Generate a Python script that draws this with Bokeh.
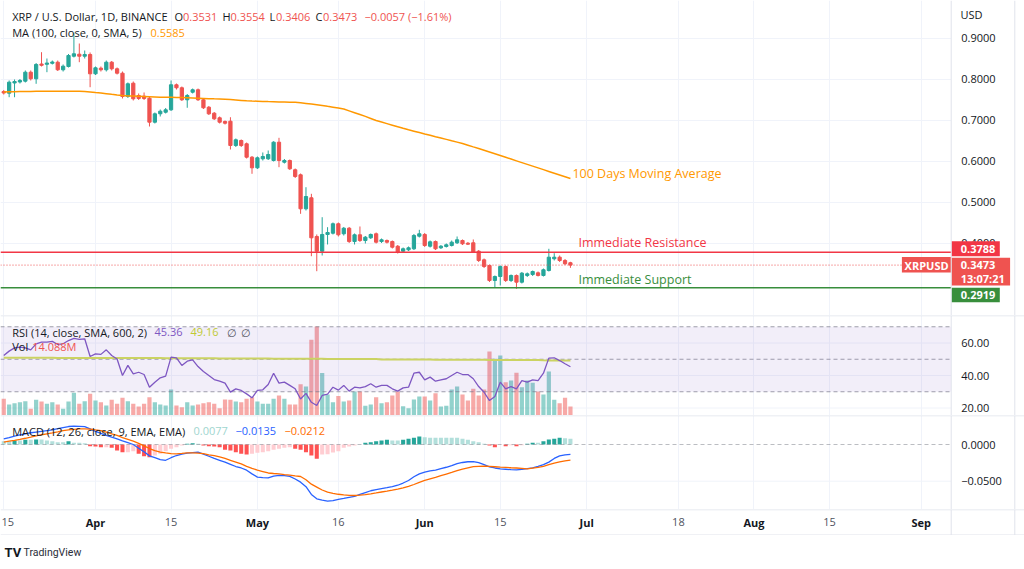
import numpy as np
import pandas as pd
from bokeh.plotting import figure
from bokeh.layouts import column
from bokeh.models import (Range1d, FixedTicker, Label, Span, BoxAnnotation, ColumnDataSource)
from bokeh.embed import file_html
from bokeh.resources import INLINE
from bokeh.core.properties import value

# ---------------- data ----------------
first_day = "2022-03-15"

opens = [0.7707, 0.7666, 0.7915, 0.7939, 0.7959, 0.8178, 0.8017, 0.8378, 0.8371, 0.8395,
         0.8422, 0.8237, 0.8317, 0.8568, 0.8617, 0.8568, 0.8610, 0.8139, 0.8276, 0.8237,
         0.8422, 0.8261, 0.8154, 0.7585, 0.7910, 0.7610, 0.7593, 0.7544, 0.6959, 0.7163,
         0.7202, 0.7261, 0.7871, 0.7798, 0.7505, 0.7690, 0.7749, 0.7505, 0.7324, 0.7178,
         0.7066, 0.6976, 0.6983, 0.6390, 0.6512, 0.6432, 0.6105, 0.5846, 0.6066, 0.6066,
         0.6024, 0.6471, 0.5983, 0.6024, 0.5798, 0.5676, 0.4846, 0.5115, 0.4171, 0.3812,
         0.4220, 0.4251, 0.4481, 0.4237, 0.4373, 0.4049, 0.4212, 0.4073, 0.4139, 0.4237,
         0.4049, 0.4073, 0.4049, 0.3934, 0.3812, 0.3846, 0.3871, 0.4178, 0.4220, 0.3934,
         0.4049, 0.3895, 0.3927, 0.3951, 0.4017, 0.4073, 0.4007, 0.4017, 0.3812, 0.3602,
         0.3463, 0.3098, 0.3195, 0.3439, 0.3098, 0.3220, 0.3056, 0.3220, 0.3244, 0.3285,
         0.3220, 0.3341, 0.3627, 0.3666, 0.3585, 0.3531]
highs = [0.7744, 0.7976, 0.8000, 0.8012, 0.8220, 0.8220, 0.8402, 0.8666, 0.8512, 0.8463,
         0.8463, 0.8366, 0.8622, 0.9146, 0.8878, 0.8707, 0.8659, 0.8317, 0.8317, 0.8463,
         0.8451, 0.8293, 0.8195, 0.7927, 0.7951, 0.7659, 0.7683, 0.7585, 0.7195, 0.7268,
         0.7305, 0.7976, 0.7902, 0.7829, 0.7646, 0.7780, 0.7780, 0.7537, 0.7354, 0.7207,
         0.7098, 0.7000, 0.7080, 0.6561, 0.6537, 0.6463, 0.6134, 0.6122, 0.6220, 0.6268,
         0.6495, 0.6578, 0.6061, 0.6049, 0.5829, 0.5707, 0.5373, 0.5212, 0.4220, 0.4641,
         0.4398, 0.4512, 0.4512, 0.4403, 0.4403, 0.4244, 0.4415, 0.4183, 0.4244, 0.4268,
         0.4122, 0.4098, 0.4073, 0.3963, 0.3902, 0.3927, 0.4232, 0.4334, 0.4256, 0.4073,
         0.4073, 0.3963, 0.4000, 0.4073, 0.4171, 0.4098, 0.4037, 0.4098, 0.3841, 0.3634,
         0.3488, 0.3220, 0.3463, 0.3463, 0.3244, 0.3244, 0.3305, 0.3293, 0.3341, 0.3317,
         0.3390, 0.3871, 0.3764, 0.3707, 0.3622, 0.3554]
lows = [0.7634, 0.7568, 0.7568, 0.7902, 0.7927, 0.7976, 0.7895, 0.8317, 0.8178, 0.8366,
        0.8207, 0.8195, 0.8293, 0.8537, 0.8422, 0.8512, 0.7812, 0.8110, 0.8195, 0.8195,
        0.8220, 0.8122, 0.7537, 0.7549, 0.7488, 0.7500, 0.7500, 0.6854, 0.6927, 0.7098,
        0.7171, 0.7232, 0.7756, 0.7476, 0.7310, 0.7659, 0.7476, 0.7280, 0.7134, 0.7012,
        0.6927, 0.6902, 0.6293, 0.6354, 0.6354, 0.6073, 0.5700, 0.5817, 0.6024, 0.6037,
        0.6000, 0.5861, 0.5951, 0.5793, 0.5598, 0.4724, 0.4805, 0.3690, 0.3324, 0.3707,
        0.3976, 0.4220, 0.4171, 0.4195, 0.4012, 0.3976, 0.4037, 0.4000, 0.4110, 0.4000,
        0.4012, 0.4000, 0.3878, 0.3756, 0.3781, 0.3817, 0.3841, 0.4146, 0.3915, 0.3902,
        0.3841, 0.3866, 0.3902, 0.3927, 0.3988, 0.3963, 0.3963, 0.3768, 0.3549, 0.3402,
        0.3061, 0.2934, 0.2976, 0.3061, 0.3061, 0.2895, 0.3024, 0.3183, 0.3207, 0.3195,
        0.3195, 0.3317, 0.3585, 0.3549, 0.3476, 0.3406]
closes = [0.7671, 0.7934, 0.7951, 0.7976, 0.8178, 0.8017, 0.8366, 0.8346, 0.8402, 0.8427,
          0.8237, 0.8324, 0.8585, 0.8627, 0.8568, 0.8610, 0.8139, 0.8285, 0.8237, 0.8422,
          0.8261, 0.8154, 0.7585, 0.7895, 0.7529, 0.7537, 0.7537, 0.6959, 0.7163, 0.7227,
          0.7261, 0.7871, 0.7798, 0.7505, 0.7610, 0.7749, 0.7505, 0.7310, 0.7163, 0.7041,
          0.6959, 0.6934, 0.6390, 0.6529, 0.6390, 0.6105, 0.5846, 0.6090, 0.6122, 0.6171,
          0.6471, 0.6024, 0.6024, 0.5822, 0.5634, 0.4846, 0.5146, 0.4139, 0.3812, 0.4220,
          0.4268, 0.4481, 0.4212, 0.4373, 0.4049, 0.4212, 0.4073, 0.4154, 0.4220, 0.4032,
          0.4090, 0.4032, 0.3910, 0.3788, 0.3871, 0.3895, 0.4195, 0.4237, 0.3951, 0.4041,
          0.3871, 0.3934, 0.3968, 0.4032, 0.4090, 0.3993, 0.3983, 0.3788, 0.3585, 0.3439,
          0.3098, 0.3195, 0.3439, 0.3098, 0.3220, 0.3056, 0.3276, 0.3261, 0.3317, 0.3220,
          0.3359, 0.3666, 0.3666, 0.3585, 0.3505, 0.3473]
volume_m = [26.1, 17.2, 19.2, 20.8, 22.4, 10.5, 24.6, 21.9, 18.3, 20.8,
            17.2, 10.5, 21.9, 35.5, 18.3, 22.4, 34.0, 23.5, 20.8, 15.7,
            24.6, 18.3, 27.7, 22.4, 18.3, 14.1, 18.3, 28.6, 20.8, 17.2,
            15.7, 40.7, 15.7, 13.0, 20.8, 15.7, 17.2, 19.2, 20.8, 18.3,
            11.4, 25.0, 24.6, 21.9, 20.8, 26.1, 28.6, 21.9, 18.3, 18.3,
            26.1, 31.3, 26.1, 17.2, 17.2, 49.0, 45.4, 118.5, 139.3, 66.5,
            32.9, 20.8, 30.5, 21.9, 23.5, 37.6, 37.6, 15.2, 17.2, 28.6,
            19.2, 20.8, 31.3, 37.6, 14.6, 11.4, 25.0, 29.7, 29.7, 23.5,
            34.9, 14.1, 15.2, 40.7, 45.4, 32.9, 23.5, 41.8, 31.3, 40.7,
            100.2, 88.7, 93.9, 52.1, 54.8, 66.8, 44.3, 54.8, 51.2, 37.6,
            32.9, 68.9, 24.6, 19.2, 27.7, 14.088]
ma100 = [0.7695, 0.7700, 0.7703, 0.7706, 0.7708, 0.7710, 0.7712, 0.7714, 0.7715, 0.7716,
         0.7716, 0.7716, 0.7715, 0.7714, 0.7712, 0.7705, 0.7695, 0.7682, 0.7670, 0.7655,
         0.7638, 0.7622, 0.7610, 0.7600, 0.7595, 0.7590, 0.7585, 0.7580, 0.7575, 0.7570,
         0.7568, 0.7566, 0.7562, 0.7558, 0.7553, 0.7548, 0.7543, 0.7538, 0.7533, 0.7529,
         0.7527, 0.7520, 0.7510, 0.7500, 0.7490, 0.7480, 0.7475, 0.7471, 0.7466, 0.7461,
         0.7457, 0.7453, 0.7450, 0.7447, 0.7444, 0.7430, 0.7415, 0.7400, 0.7385, 0.7366,
         0.7345, 0.7325, 0.7303, 0.7280, 0.7235, 0.7190, 0.7145, 0.7100, 0.7050, 0.7000,
         0.6962, 0.6924, 0.6886, 0.6848, 0.6810, 0.6773, 0.6740, 0.6707, 0.6673, 0.6640,
         0.6606, 0.6573, 0.6540, 0.6506, 0.6473, 0.6439, 0.6398, 0.6357, 0.6317, 0.6274,
         0.6231, 0.6188, 0.6145, 0.6102, 0.6059, 0.6016, 0.5973, 0.5930, 0.5887, 0.5844,
         0.5801, 0.5758, 0.5715, 0.5672, 0.5629, 0.5585]
rsi = [52.3, 55.0, 57.0, 57.5, 57.0, 55.8, 59.5, 60.5, 60.5, 61.0,
       59.1, 59.5, 61.5, 62.8, 62.2, 62.6, 51.7, 53.3, 53.0, 55.8,
       52.3, 50.2, 40.0, 46.2, 41.0, 42.0, 40.6, 32.8, 35.9, 38.6,
       39.6, 51.3, 50.9, 46.2, 48.8, 49.6, 45.5, 42.5, 40.0, 37.5,
       36.5, 35.3, 29.8, 31.8, 30.8, 28.7, 26.3, 30.8, 31.2, 34.5,
       41.4, 35.3, 35.9, 33.9, 31.8, 25.5, 29.0, 23.5, 21.5, 27.7,
       28.5, 32.8, 31.0, 33.9, 30.4, 32.8, 32.4, 33.2, 34.9, 32.8,
       33.9, 33.9, 31.8, 30.4, 32.4, 32.8, 41.4, 42.0, 37.3, 39.0,
       36.5, 37.3, 38.0, 40.0, 42.0, 40.6, 40.6, 38.0, 33.2, 29.7,
       24.6, 27.1, 35.9, 31.8, 33.2, 31.8, 36.9, 35.9, 37.3, 36.9,
       41.4, 50.7, 50.9, 49.2, 47.2, 45.36]
rsi_ma = [50.9, 50.9, 50.9, 50.9, 50.9, 50.9, 50.9, 50.9, 50.9, 50.9,
          50.8, 50.8, 50.8, 50.8, 50.8, 50.8, 50.8, 50.8, 50.8, 50.8,
          50.7, 50.7, 50.7, 50.7, 50.7, 50.7, 50.7, 50.7, 50.7, 50.7,
          50.6, 50.6, 50.6, 50.6, 50.6, 50.6, 50.6, 50.6, 50.6, 50.6,
          50.5, 50.5, 50.5, 50.5, 50.5, 50.5, 50.5, 50.5, 50.5, 50.5,
          50.3, 50.3, 50.3, 50.3, 50.3, 50.3, 50.3, 50.3, 50.3, 50.3,
          50.1, 50.1, 50.1, 50.1, 50.1, 50.1, 50.1, 50.1, 50.1, 50.1,
          49.9, 49.9, 49.9, 49.9, 49.9, 49.9, 49.9, 49.9, 49.9, 49.9,
          49.7, 49.7, 49.7, 49.7, 49.7, 49.7, 49.7, 49.7, 49.7, 49.7,
          49.5, 49.5, 49.5, 49.5, 49.5, 49.5, 49.5, 49.5, 49.5, 49.5,
          49.35, 49.3, 49.25, 49.2, 49.18, 49.16]
macd = [0.0077, 0.0095, 0.0115, 0.0130, 0.0145, 0.0160, 0.0170, 0.0180, 0.0190, 0.0200,
        0.0215, 0.0230, 0.0245, 0.0250, 0.0248, 0.0243, 0.0213, 0.0180, 0.0152, 0.0125,
        0.0100, 0.0077, 0.0050, 0.0025, 0.0000, -0.0050, -0.0100, -0.0155, -0.0180, -0.0205,
        -0.0215, -0.0180, -0.0150, -0.0130, -0.0118, -0.0110, -0.0105, -0.0130, -0.0160, -0.0190,
        -0.0215, -0.0240, -0.0270, -0.0300, -0.0320, -0.0350, -0.0400, -0.0445, -0.0450, -0.0454,
        -0.0430, -0.0422, -0.0425, -0.0435, -0.0470, -0.0513, -0.0575, -0.0680, -0.0740, -0.0758,
        -0.0772, -0.0765, -0.0748, -0.0735, -0.0720, -0.0708, -0.0680, -0.0655, -0.0630, -0.0615,
        -0.0600, -0.0588, -0.0575, -0.0555, -0.0525, -0.0490, -0.0440, -0.0400, -0.0375, -0.0358,
        -0.0348, -0.0328, -0.0310, -0.0288, -0.0262, -0.0245, -0.0235, -0.0232, -0.0248, -0.0275,
        -0.0305, -0.0320, -0.0332, -0.0337, -0.0342, -0.0345, -0.0338, -0.0330, -0.0318, -0.0298,
        -0.0275, -0.0240, -0.0190, -0.0155, -0.0142, -0.0135]
signal = [0.0032, 0.0045, 0.0057, 0.0070, 0.0085, 0.0101, 0.0118, 0.0133, 0.0146, 0.0158,
          0.0172, 0.0188, 0.0200, 0.0207, 0.0212, 0.0213, 0.0210, 0.0198, 0.0190, 0.0168,
          0.0145, 0.0123, 0.0095, 0.0070, 0.0045, 0.0015, -0.0018, -0.0055, -0.0082, -0.0104,
          -0.0115, -0.0125, -0.0127, -0.0122, -0.0114, -0.0114, -0.0117, -0.0125, -0.0140, -0.0152,
          -0.0170, -0.0190, -0.0215, -0.0240, -0.0265, -0.0298, -0.0325, -0.0348, -0.0368, -0.0388,
          -0.0395, -0.0400, -0.0410, -0.0418, -0.0428, -0.0436, -0.0480, -0.0540, -0.0580, -0.0620,
          -0.0650, -0.0665, -0.0678, -0.0687, -0.0692, -0.0695, -0.0690, -0.0683, -0.0672, -0.0660,
          -0.0647, -0.0635, -0.0622, -0.0608, -0.0592, -0.0570, -0.0545, -0.0515, -0.0490, -0.0468,
          -0.0448, -0.0425, -0.0402, -0.0380, -0.0357, -0.0335, -0.0318, -0.0302, -0.0297, -0.0295,
          -0.0298, -0.0303, -0.0309, -0.0313, -0.0317, -0.0320, -0.0325, -0.0332, -0.0322, -0.0312,
          -0.0298, -0.0275, -0.0254, -0.0237, -0.0222, -0.0212]
hist = [0.0045, 0.0045, 0.0054, 0.0054, 0.0064, 0.0064, 0.0068, 0.0068, 0.0054, 0.0045,
        0.0032, 0.0032, 0.0045, 0.0023, 0.0023, 0.0018, -0.0023, -0.0027, -0.0036, -0.0036,
        -0.0045, -0.0082, -0.0104, -0.0104, -0.0091, -0.0127, -0.0159, -0.0173, -0.0150, -0.0127,
        -0.0091, -0.0059, -0.0036, -0.0014, 0.0009, 0.0018, 0.0009, -0.0014, -0.0023, -0.0027,
        -0.0036, -0.0073, -0.0082, -0.0104, -0.0127, -0.0136, -0.0127, -0.0114, -0.0104, -0.0091,
        -0.0073, -0.0059, -0.0045, -0.0036, -0.0059, -0.0073, -0.0104, -0.0150, -0.0195, -0.0136,
        -0.0132, -0.0109, -0.0091, -0.0045, -0.0027, -0.0014, 0.0000, 0.0023, 0.0032, 0.0045,
        0.0054, 0.0064, 0.0054, 0.0054, 0.0064, 0.0077, 0.0091, 0.0109, 0.0100, 0.0091,
        0.0091, 0.0091, 0.0091, 0.0091, 0.0091, 0.0077, 0.0064, 0.0045, 0.0032, 0.0009,
        -0.0014, -0.0036, -0.0005, -0.0023, -0.0009, -0.0023, -0.0009, 0.0009, 0.0023, 0.0023,
        0.0045, 0.0068, 0.0077, 0.0091, 0.0086, 0.0077]

resistance = 0.3788
support = 0.2919
last_price = 0.3473
countdown = "13:07:21"

tick_dates = ["2022-03-15", "2022-04-01", "2022-04-15", "2022-05-01", "2022-05-16", "2022-06-01",
              "2022-06-15", "2022-07-01", "2022-07-18", "2022-08-01", "2022-08-15", "2022-09-01"]
tick_labels = ["15", "Apr", "15", "May", "16", "Jun", "15", "Jul", "18", "Aug", "15", "Sep"]
price_ticks = [0.4, 0.5, 0.6, 0.7, 0.8, 0.9]
rsi_ticks = [20, 40, 60]
rsi_levels = [70, 50, 30]
macd_ticks = [0.0, -0.05]

for arr in (highs, lows, closes, volume_m, ma100, rsi, rsi_ma, macd, signal, hist):
    assert len(arr) == len(opens), len(arr)

# ---------------- styling / layout ----------------
FONT = "Open Sans"
UP, DOWN = "#26a69a", "#ef5350"
GRID = "#f0f3fa"
SEP = "#e0e3eb"
TXT = "#131722"
W = 1024

dates = pd.date_range(first_day, periods=len(opens), freq="D")
origin = pd.Timestamp("2022-04-01")
xs = np.array([(d - origin).days for d in dates], dtype=float)
tick_x = [float((pd.Timestamp(t) - origin).days) for t in tick_dates]

PX_PER_DAY = 5.397
X0 = -95.0 / PX_PER_DAY                    # left edge of the chart
xr = Range1d(X0, X0 + W / PX_PER_DAY)
X_EDGE = X0 + 950.7 / PX_PER_DAY           # price-scale border
X_BORDER = X0 + 1014.3 / PX_PER_DAY        # right border of the widget

o = np.array(opens); c = np.array(closes)
candle_color = [UP if u else DOWN for u in (c >= o)]
hcol = []
for i, hv in enumerate(hist):
    prev = hist[i - 1] if i > 0 else hv
    if hv >= 0:
        hcol.append("#26a69a" if hv > prev else "#b2dfdb")
    else:
        hcol.append("#ff5252" if hv < prev else "#ffcdd2")

src = ColumnDataSource(dict(
    x=xs, h=highs, l=lows, top=np.maximum(o, c), bottom=np.minimum(o, c),
    color=candle_color, vol=volume_m, ma=ma100, rsi=rsi, rsi_ma=rsi_ma,
    macd=macd, signal=signal, hist=hist, hcol=hcol,
))


def make_fig(h, yr, xrange=xr, vgrid=True):
    p = figure(frame_width=W, frame_height=h, x_range=xrange, y_range=yr,
               x_axis_location=None, y_axis_location=None,
               output_backend="svg", toolbar_location=None,
               min_border_left=0, min_border_right=0, min_border_top=0, min_border_bottom=0)
    p.outline_line_color = None
    p.background_fill_color = "white"
    p.border_fill_color = "white"
    p.ygrid.visible = False
    if vgrid:
        p.xgrid.ticker = FixedTicker(ticks=tick_x)
        p.xgrid.grid_line_color = GRID
    else:
        p.xgrid.visible = False
    return p


def price_scale(p, ticks, labels, grid_ticks):
    # horizontal grid inside the pane, tick labels on the price scale, border lines
    p.segment(x0=X0, x1=X_EDGE, y0=grid_ticks, y1=grid_ticks, color=GRID, line_width=1)
    p.text(x=X_EDGE, y=ticks, text=labels, x_offset=10, text_align="left",
           text_baseline="middle", text_font=value(FONT), text_font_size=value("11px"),
           text_color=TXT)
    p.add_layout(Span(location=X_EDGE, dimension="height", line_color=SEP, line_width=1))
    p.add_layout(Span(location=X_BORDER, dimension="height", line_color=SEP, line_width=1))


def add_text(p, top_px, text, X, Y, color=TXT, size="11px", bold=False):
    p.add_layout(Label(x=X0, y=p.y_range.end, x_offset=X, y_offset=-(Y - top_px),
                       text=text, text_color=color, text_font=FONT, text_font_size=size,
                       text_font_style="bold" if bold else "normal",
                       text_align="left", text_baseline="middle"))


PX_PER_PRICE = 410.0


def price_box(p, texts, yval, left_px, width_px, dy_center, height_px, bg, text_dx, line_gap=13.3):
    # coloured tag on the price scale, anchored at a price value
    left = X_EDGE + left_px / PX_PER_DAY
    right = left + width_px / PX_PER_DAY
    yc = yval + dy_center / PX_PER_PRICE
    p.quad(left=left, right=right, bottom=yc - height_px / 2 / PX_PER_PRICE,
           top=yc + height_px / 2 / PX_PER_PRICE, fill_color=bg, line_color=None)
    n = len(texts)
    for k, t in enumerate(texts):
        off = (k - (n - 1) / 2) * line_gap
        p.text(x=X_EDGE, y=yc, text=[t], x_offset=text_dx, y_offset=off,
               text_align="left", text_baseline="middle", text_font=value(FONT),
               text_font_size=value("11px"), text_font_style="bold", text_color="white")

# ---------------- main price pane ----------------
p1 = make_fig(315, Range1d(0.99268 - 315 / PX_PER_PRICE, 0.99268))
price_scale(p1, price_ticks, [f"{t:.4f}" for t in price_ticks], price_ticks)
p1.segment(x0="x", y0="h", x1="x", y1="l", color="color", line_width=1, source=src)
p1.vbar(x="x", width=0.6, top="top", bottom="bottom", fill_color="color", line_color="color",
        line_width=1, source=src)
p1.line(x="x", y="ma", color="#ff9800", line_width=1.5, source=src)
p1.segment(x0=X0, x1=X_EDGE, y0=last_price, y1=last_price, color=DOWN, line_width=1,
           line_dash="1 2")
p1.segment(x0=X0, x1=X_EDGE, y0=resistance, y1=resistance, color="#f23645", line_width=1.6)
p1.segment(x0=X0, x1=X_EDGE, y0=support, y1=support, color="#388e3c", line_width=1.6)

p1.add_layout(Label(x=xs[-1], y=ma100[-1], x_offset=2, y_offset=5, text="100 Days Moving Average",
                    text_color="#ff9800", text_font=FONT, text_font_size="12.5px",
                    text_align="left", text_baseline="middle"))
p1.add_layout(Label(x=xs[-1], y=resistance, x_offset=8, y_offset=10, text="Immediate Resistance",
                    text_color="#f23645", text_font=FONT, text_font_size="12.5px",
                    text_align="left", text_baseline="middle"))
p1.add_layout(Label(x=xs[-1], y=support, x_offset=8, y_offset=8.5, text="Immediate Support",
                    text_color="#388e3c", text_font=FONT, text_font_size="12.5px",
                    text_align="left", text_baseline="middle"))

add_text(p1, 0, "XRP / U.S. Dollar, 1D, BINANCE", 11.7, 16)
legend_parts = [("O", 174, TXT), (f"{opens[-1]:.4f}", 182.5, DOWN), ("H", 222, TXT),
                (f"{highs[-1]:.4f}", 230, DOWN), ("L", 269, TXT), (f"{lows[-1]:.4f}", 275.5, DOWN),
                ("C", 315, TXT), (f"{closes[-1]:.4f}", 322.5, DOWN),
                ("\u22120.0057 (\u22121.61%)", 364, DOWN)]
for t, X, col in legend_parts:
    add_text(p1, 0, t, X, 16, col)
add_text(p1, 0, "MA (100, close, 0, SMA, 5)", 11.7, 32)
add_text(p1, 0, f"{ma100[-1]:.4f}", 150, 32, "#ff9800")
add_text(p1, 0, "USD", 960, 14)

price_box(p1, [f"{resistance:.4f}"], resistance, 0.3, 48.3, 3.5, 15, "#f23645", 9.5)
price_box(p1, [f"{last_price:.4f}", countdown], last_price, 0.3, 58.6, -6.5, 27.7, DOWN, 9.5)
price_box(p1, [f"{support:.4f}"], support, 0.3, 48.3, -7.2, 14.4, "#388e3c", 9.5)
# symbol tag left of the price scale
p1.quad(left=X_EDGE - 49.3 / PX_PER_DAY, right=X_EDGE, bottom=last_price - 7.3 / PX_PER_PRICE,
        top=last_price + 8.1 / PX_PER_PRICE, fill_color=DOWN, line_color=None)
p1.text(x=X_EDGE, y=last_price, text=["XRPUSD"], x_offset=-24.6, text_align="center",
        text_baseline="middle", text_font=value(FONT), text_font_size=value("11px"),
        text_font_style="bold", text_color="white")

# ---------------- RSI + volume pane ----------------
p2 = make_fig(100, Range1d(40 - 40 / 1.625, 40 + 60 / 1.625))
p2.extra_y_ranges = {"vol": Range1d(0, 156.5)}
p2.add_layout(BoxAnnotation(left=X0, right=X_EDGE, bottom=rsi_levels[2], top=rsi_levels[0],
                            fill_color="#7e57c2", fill_alpha=0.1, line_color=None))
price_scale(p2, rsi_ticks, [f"{t:.2f}" for t in rsi_ticks], rsi_ticks)
p2.vbar(x="x", width=0.78, top="vol", bottom=0, y_range_name="vol", fill_color="color",
        fill_alpha=0.5, line_color=None, source=src)
p2.segment(x0=X0, x1=X_EDGE, y0=rsi_levels, y1=rsi_levels, color="#787b86", line_width=1,
           line_dash="4 3", line_alpha=0.7)
p2.line(x="x", y="rsi_ma", color="#d4e157", line_width=2, source=src)
p2.line(x="x", y="rsi", color="#7e57c2", line_width=1.3, source=src)
p2.add_layout(Span(location=p2.y_range.end, dimension="width", line_color=SEP, line_width=1.5))
add_text(p2, 315, "RSI (14, close, SMA, 600, 2)", 11.7, 331.5)
add_text(p2, 315, f"{rsi[-1]:.2f}", 154, 331.5, "#7e57c2")
add_text(p2, 315, f"{rsi_ma[-1]:.2f}", 190, 331.5, "#c0ca33")
add_text(p2, 315, "\u2205", 226, 331.5, "#50535e")
add_text(p2, 315, "\u2205", 240, 331.5, "#50535e")
add_text(p2, 315, "Vol", 11.7, 346)
add_text(p2, 315, f"{volume_m[-1]:.3f}M", 31.7, 346, DOWN)

# ---------------- MACD pane ----------------
p3 = make_fig(94, Range1d(-65 / 734.0, 29 / 734.0))
price_scale(p3, macd_ticks, [f"{t:.4f}".replace("-", "\u2212") for t in macd_ticks], [-0.05])
p3.vbar(x="x", width=0.75, top="hist", bottom=0, fill_color="hcol", line_color=None, source=src)
p3.segment(x0=X0, x1=X_EDGE, y0=0, y1=0, color="#787b86", line_width=1, line_dash="4 3",
           line_alpha=0.5)
p3.line(x="x", y="macd", color="#2962ff", line_width=1.3, source=src)
p3.line(x="x", y="signal", color="#ff6d00", line_width=1.3, source=src)
p3.add_layout(Span(location=p3.y_range.end, dimension="width", line_color=SEP, line_width=1.5))
add_text(p3, 415, "MACD (12, 26, close, 9, EMA, EMA)", 11.7, 430.5)
add_text(p3, 415, f"{hist[-1]:.4f}", 193, 430.5, "#9fd6cf")
add_text(p3, 415, f"\u2212{abs(macd[-1]):.4f}", 235, 430.5, "#2962ff")
add_text(p3, 415, f"\u2212{abs(signal[-1]):.4f}", 284, 430.5, "#ff6d00")

# ---------------- date axis strip ----------------
p4 = make_fig(26, Range1d(0, 26), vgrid=False)
EDGE_PAD = 8 / PX_PER_DAY
for want_month, style, colr in ((True, "bold", TXT), (False, "normal", "#50535e")):
    sel = [(x, t) for x, t in zip(tick_x, tick_labels) if (not t.isdigit()) == want_month]
    inner = [(x, t) for x, t in sel if x >= X0 + EDGE_PAD]
    edge = [(x, t) for x, t in sel if x < X0 + EDGE_PAD]
    if inner:
        p4.text(x=[x for x, _ in inner], y=13.5, text=[t for _, t in inner], text_align="center",
                text_baseline="middle", text_font=value(FONT), text_font_size=value("11px"),
                text_font_style=style, text_color=colr)
    if edge:
        # a label whose tick sits at the very left edge is kept whole, flush with the edge
        p4.text(x=[X0 for _ in edge], y=13.5, text=[t for _, t in edge], x_offset=1,
                text_align="left", text_baseline="middle", text_font=value(FONT),
                text_font_size=value("11px"), text_font_style=style, text_color=colr)
p4.add_layout(Span(location=26, dimension="width", line_color=SEP, line_width=1.5))
p4.add_layout(Span(location=0.5, dimension="width", line_color=SEP, line_width=1))
p4.add_layout(Span(location=X_EDGE, dimension="height", line_color=SEP, line_width=1))
p4.add_layout(Span(location=X_BORDER, dimension="height", line_color=SEP, line_width=1))

# ---------------- footer ----------------
p5 = make_fig(34, Range1d(0, 34), xrange=Range1d(0, W), vgrid=False)
p5.text(x=4, y=17, text=["TV"], text_font=value("Roboto"), text_font_size=value("13px"),
        text_font_style="bold", text_baseline="middle", text_color=TXT)
p5.text(x=23, y=17, text=["TradingView"], text_font=value("Roboto"), text_font_size=value("10.5px"),
        text_baseline="middle", text_color="#2a2e39")

layout = column(p1, p2, p3, p4, p5, spacing=0)
open("out.html", "w").write(file_html(layout, INLINE))
